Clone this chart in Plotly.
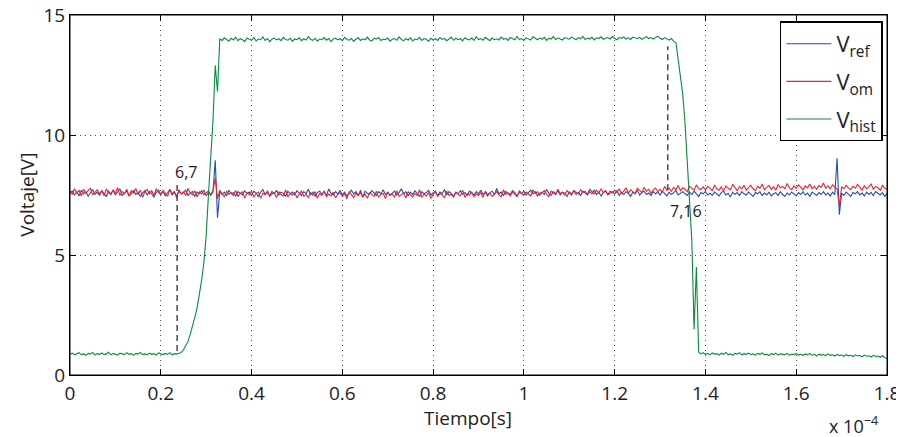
import plotly.graph_objects as go

# time base in units of 1e-4 s (sample step 0.005e-4 s)
n_samples = 361
step = 0.005
tiempo = [round(i * step, 3) for i in range(n_samples)]

v_ref = [
    7.58,7.66,7.50,7.63,7.46,7.70,7.55,7.64,7.45,7.60,7.73,7.52,7.62,7.48,7.68,7.57,7.43,7.66,7.54,7.71,
    7.51,7.63,7.76,7.48,7.60,7.67,7.47,7.55,7.70,7.52,7.62,7.44,7.58,7.69,7.50,7.64,7.55,7.41,7.60,7.70,
    7.53,7.64,7.47,7.58,7.73,7.50,7.62,7.46,7.66,7.55,7.59,7.71,7.48,7.58,7.64,7.44,7.62,7.55,7.68,7.51,
    7.60,7.66,7.48,7.62,8.95,6.55,7.66,7.52,7.62,7.47,7.70,7.55,7.60,7.45,7.64,7.57,7.50,7.68,7.55,7.62,
    7.48,7.66,7.58,7.43,7.62,7.72,7.53,7.60,7.46,7.65,7.55,7.70,7.50,7.62,7.57,7.44,7.66,7.55,7.62,7.50,
    7.68,7.58,7.48,7.64,7.55,7.74,7.51,7.62,7.45,7.60,7.66,7.53,7.62,7.48,7.75,7.57,7.50,7.64,7.55,7.68,
    7.52,7.62,7.46,7.58,7.70,7.55,7.64,7.50,7.60,7.41,7.66,7.57,7.53,7.68,7.60,7.48,7.64,7.55,7.72,7.52,
    7.62,7.48,7.58,7.66,7.50,7.60,7.76,7.55,7.64,7.46,7.62,7.52,7.68,7.58,7.44,7.64,7.55,7.60,7.70,7.50,
    7.57,7.66,7.48,7.62,7.55,7.73,7.50,7.64,7.57,7.44,7.62,7.55,7.68,7.52,7.60,7.48,7.66,7.58,7.50,7.64,
    7.55,7.70,7.52,7.62,7.46,7.60,7.66,7.50,7.77,7.55,7.62,7.48,7.64,7.58,7.52,7.68,7.60,7.44,7.62,7.55,
    7.66,7.50,7.60,7.70,7.55,7.64,7.46,7.58,7.62,7.52,7.73,7.57,7.48,7.64,7.55,7.68,7.50,7.62,7.58,7.44,
    7.62,7.55,7.68,7.52,7.60,7.48,7.66,7.58,7.50,7.64,7.55,7.72,7.52,7.62,7.46,7.60,7.66,7.50,7.57,7.64,
    7.55,7.68,7.48,7.60,7.52,7.64,7.57,7.44,7.62,7.55,7.70,7.50,7.60,7.66,7.52,7.58,7.48,7.64,7.55,7.62,
    7.50,7.66,7.57,7.46,7.62,7.52,7.60,7.68,7.50,7.58,7.64,7.55,7.48,7.62,7.52,7.66,7.57,7.44,7.60,7.55,
    7.64,7.50,7.57,7.48,7.62,7.55,7.46,7.60,7.66,7.50,7.57,7.42,7.62,7.52,7.60,7.48,7.64,7.55,7.50,7.62,
    7.52,7.44,7.60,7.55,7.64,7.48,7.58,7.50,7.62,7.46,7.55,7.60,7.48,7.64,7.52,7.44,7.58,7.50,7.62,7.55,
    7.46,7.60,7.52,7.64,7.50,7.58,7.44,7.62,7.55,7.48,7.60,7.52,7.64,7.50,7.58,7.46,7.62,7.52,9.03,6.68,
    7.58,7.48,7.62,7.52,7.44,7.60,7.55,7.64,7.50,7.58,7.46,7.62,7.52,7.60,7.48,7.64,7.55,7.50,7.60,7.44,
    7.57,
]

v_om = [
    7.66,7.52,7.76,7.58,7.70,7.46,7.74,7.56,7.68,7.79,7.50,7.63,7.72,7.54,7.69,7.47,7.75,7.60,7.52,7.71,
    7.58,7.80,7.48,7.65,7.55,7.74,7.45,7.68,7.58,7.77,7.52,7.70,7.40,7.63,7.73,7.55,7.68,7.48,7.76,7.60,
    7.52,7.70,7.58,7.44,7.73,7.56,7.65,7.37,7.72,7.55,7.63,7.48,7.77,7.58,7.50,7.68,7.42,7.63,7.55,7.71,
    7.46,7.61,7.53,7.67,8.20,7.35,7.70,7.55,7.42,7.65,7.53,7.60,7.47,7.69,7.44,7.57,7.63,7.37,7.60,7.51,
    7.66,7.41,7.56,7.62,7.36,7.58,7.50,7.68,7.45,7.54,7.60,7.39,7.64,7.52,7.46,7.71,7.42,7.56,7.50,7.62,
    7.38,7.54,7.66,7.44,7.52,7.40,7.60,7.50,7.64,7.36,7.56,7.48,7.68,7.42,7.54,7.46,7.62,7.38,7.52,7.60,
    7.44,7.56,7.34,7.64,7.50,7.40,7.58,7.46,7.70,7.42,7.54,7.36,7.60,7.50,7.44,7.66,7.40,7.52,7.56,7.35,
    7.62,7.48,7.54,7.40,7.68,7.44,7.52,7.58,7.38,7.64,7.50,7.42,7.56,7.48,7.72,7.40,7.54,7.46,7.60,7.36,
    7.52,7.64,7.44,7.56,7.50,7.38,7.66,7.48,7.54,7.42,7.60,7.52,7.46,7.70,7.40,7.56,7.50,7.62,7.44,7.54,
    7.48,7.60,7.40,7.66,7.52,7.58,7.44,7.54,7.64,7.50,7.42,7.72,7.52,7.58,7.46,7.62,7.54,7.44,7.68,7.56,
    7.50,7.62,7.54,7.46,7.72,7.56,7.64,7.50,7.60,7.68,7.54,7.44,7.66,7.58,7.52,7.74,7.56,7.62,7.50,7.68,
    7.58,7.50,7.68,7.62,7.54,7.72,7.60,7.66,7.52,7.74,7.62,7.55,7.70,7.58,7.76,7.60,7.68,7.52,7.66,7.58,
    7.70,7.60,7.76,7.56,7.66,7.80,7.58,7.72,7.64,7.55,7.78,7.68,7.60,7.82,7.66,7.74,7.58,7.70,7.79,7.64,
    7.74,7.62,7.86,7.70,7.78,7.66,7.82,7.72,7.90,7.68,7.80,7.74,7.64,7.86,7.76,7.70,7.92,7.78,7.72,7.84,
    7.72,7.86,7.78,7.68,7.92,7.76,7.70,7.84,7.66,7.88,7.78,7.72,7.94,7.80,7.68,7.86,7.76,7.90,7.70,7.82,
    7.90,7.76,7.68,7.86,7.78,7.96,7.72,7.82,7.90,7.74,7.84,7.70,7.94,7.80,7.86,7.76,7.98,7.80,7.72,7.88,
    7.78,7.92,7.82,7.72,7.88,7.80,7.96,7.76,7.86,7.74,7.90,7.82,8.00,7.78,7.88,7.76,7.92,7.84,7.75,7.02,
    7.84,7.76,7.90,7.80,7.72,7.86,7.78,7.94,7.82,7.70,7.88,7.76,7.84,7.96,7.74,7.86,7.80,7.70,7.90,7.78,
    7.76,
]

v_hist = [
    0.86,0.91,0.84,0.89,0.93,0.85,0.88,0.82,0.90,0.87,0.94,0.83,0.89,0.86,0.92,0.85,0.88,0.95,0.84,0.90,
    0.87,0.83,0.91,0.88,0.85,0.93,0.86,0.89,0.82,0.90,0.87,0.94,0.85,0.88,0.84,0.91,0.86,0.89,0.83,0.92,
    0.88,0.85,0.90,0.86,0.93,0.84,0.89,0.87,0.91,0.93,1.05,1.20,1.40,1.70,2.00,2.40,2.80,3.30,3.95,4.70,
    5.80,7.50,9.00,10.60,12.90,11.80,14.00,13.94,14.05,13.98,13.91,14.03,13.96,14.08,13.93,14.01,13.97,13.89,14.04,13.99,
    13.95,14.06,13.92,14.00,13.97,14.09,13.94,14.02,13.88,13.99,14.04,13.96,14.01,13.93,14.07,13.98,13.95,14.03,13.90,14.00,
    13.97,14.05,13.93,14.01,13.96,14.10,13.99,13.94,14.03,13.91,14.00,13.97,14.06,13.95,14.02,13.89,13.99,14.04,13.96,14.01,
    13.93,14.07,13.98,13.95,14.02,13.90,14.00,14.05,13.94,14.01,13.97,14.08,13.96,13.92,14.03,13.99,14.06,13.94,14.00,13.97,
    14.04,13.91,13.99,14.02,13.95,14.09,13.98,13.93,14.01,13.96,14.05,13.92,14.00,13.97,14.07,13.94,14.02,13.99,13.90,14.03,
    13.96,14.01,13.94,14.06,13.98,14.02,13.93,14.00,14.08,13.95,14.03,13.97,14.01,13.92,14.05,13.99,13.96,14.04,13.94,14.10,
    13.98,14.02,13.95,14.07,14.00,13.93,14.04,13.97,14.01,13.96,14.08,13.99,14.03,13.94,14.06,14.00,13.97,14.11,13.98,14.02,
    13.95,14.05,14.00,13.96,14.09,14.01,13.97,14.04,13.99,14.07,13.94,14.03,14.00,14.10,13.98,14.05,14.01,13.96,14.06,14.02,
    13.99,14.08,14.03,13.97,14.06,14.01,14.11,13.98,14.04,14.00,14.07,13.96,14.05,14.02,14.09,13.99,14.03,14.06,14.00,14.10,
    14.02,13.97,14.06,14.03,14.09,14.00,14.05,13.98,14.08,14.03,14.01,14.07,13.99,14.04,14.10,14.02,14.06,14.00,14.05,14.12,
    14.03,13.98,14.06,14.01,13.95,14.02,13.90,13.85,13.10,12.40,11.70,10.50,8.90,7.50,5.60,1.90,4.50,0.95,0.88,0.93,
    0.86,0.90,0.84,0.92,0.87,0.89,0.83,0.91,0.86,0.94,0.85,0.88,0.82,0.90,0.87,0.93,0.84,0.89,0.86,0.91,
    0.85,0.88,0.83,0.90,0.86,0.92,0.84,0.87,0.81,0.89,0.85,0.91,0.83,0.88,0.86,0.84,0.90,0.82,0.87,0.85,
    0.89,0.83,0.86,0.81,0.88,0.84,0.90,0.82,0.86,0.79,0.87,0.83,0.85,0.80,0.88,0.82,0.84,0.79,0.86,0.81,
    0.83,0.78,0.85,0.80,0.82,0.77,0.84,0.79,0.81,0.76,0.83,0.78,0.80,0.75,0.82,0.77,0.79,0.74,0.80,0.72,
    0.70,
]

# dashed measurement markers (time, bottom voltage, top voltage, label, label position)
marker_times = [0.236, 1.317]
marker_lows = [1.0, 7.7]
marker_highs = [8.0, 13.7]
marker_labels = ["6,7", "7,16"]
marker_label_x = [0.256, 1.357]
marker_label_y = [8.45, 6.85]

x_ticks = [0, 0.2, 0.4, 0.6, 0.8, 1, 1.2, 1.4, 1.6, 1.8]
y_ticks = [0, 5, 10, 15]

FONT = "Open Sans"
TXT = "#222"

fig = go.Figure()
series = [
    ("V<sub>ref</sub>", v_ref, "#1f52a8"),
    ("V<sub>om</sub>", v_om, "#ee2230"),
    ("V<sub>hist</sub>", v_hist, "#0a8a3c"),
]
for name, vals, col in series:
    assert len(vals) == n_samples, (name, len(vals))
    fig.add_trace(go.Scatter(x=tiempo, y=vals, mode="lines", name=name,
                             legendgroup=name,
                             line=dict(color=col, width=1.1)))

for tm, lo, hi in zip(marker_times, marker_lows, marker_highs):
    fig.add_trace(go.Scatter(x=[tm, tm], y=[lo, hi], mode="lines", showlegend=False,
                             line=dict(color="#4a4a4a", width=1.5, dash="6px,4px")))

for lx, ly, lab in zip(marker_label_x, marker_label_y, marker_labels):
    fig.add_annotation(x=lx, y=ly, text=lab, showarrow=False,
                       font=dict(family=FONT, size=16, color=TXT))

# axis titles and the exponent marker, placed in paper coordinates
fig.add_annotation(xref="paper", yref="paper", x=0.487, y=-0.12,
                   xanchor="center", yanchor="middle", showarrow=False,
                   text="Tiempo[s]", font=dict(family=FONT, size=19, color=TXT))
fig.add_annotation(xref="paper", yref="paper", x=-0.053, y=0.5,
                   xanchor="center", yanchor="middle", showarrow=False, textangle=-90,
                   text="Voltaje[V]", font=dict(family=FONT, size=19, color=TXT))
fig.add_annotation(xref="paper", yref="paper", x=0.992, y=-0.14,
                   xanchor="right", yanchor="middle", showarrow=False,
                   text="x 10<sup>\u22124</sup>",
                   font=dict(family=FONT, size=18, color=TXT))

# full box round the plot area (MATLAB "box on")
fig.add_shape(type="rect", xref="paper", yref="paper", x0=0, x1=1, y0=0, y1=1,
              line=dict(color="black", width=1), layer="above")

axis_common = dict(
    showline=True, linecolor="black", linewidth=1, mirror="ticks",
    ticks="inside", ticklen=6, tickcolor="black",
    showgrid=True, gridcolor="rgba(0,0,0,0.7)", griddash="1px,4px", gridwidth=1,
    zeroline=False, tickfont=dict(family=FONT, size=19, color=TXT),
    automargin=False, ticklabeloverflow="allow",
)

fig.update_xaxes(range=[0, 1.8], tickvals=x_ticks,
                 ticktext=[f"{v:g}" for v in x_ticks],
                 ticklabelstandoff=1, **axis_common)
fig.update_yaxes(range=[0, 15], tickvals=y_ticks, **axis_common)

# page body has an 8px margin; size the figure so the plot area lands where the reference has it
fig.update_layout(
    width=896, height=429,
    margin=dict(l=62, r=17, t=7, b=62),
    paper_bgcolor="white", plot_bgcolor="white",
    font=dict(family=FONT, color=TXT),
    legend=dict(x=0.995, y=0.982, xanchor="right", yanchor="top",
                bgcolor="white", bordercolor="black", borderwidth=1.5,
                font=dict(family=FONT, size=22, color=TXT),
                tracegroupgap=6, itemwidth=45),
)

fig.write_html("out.html")
